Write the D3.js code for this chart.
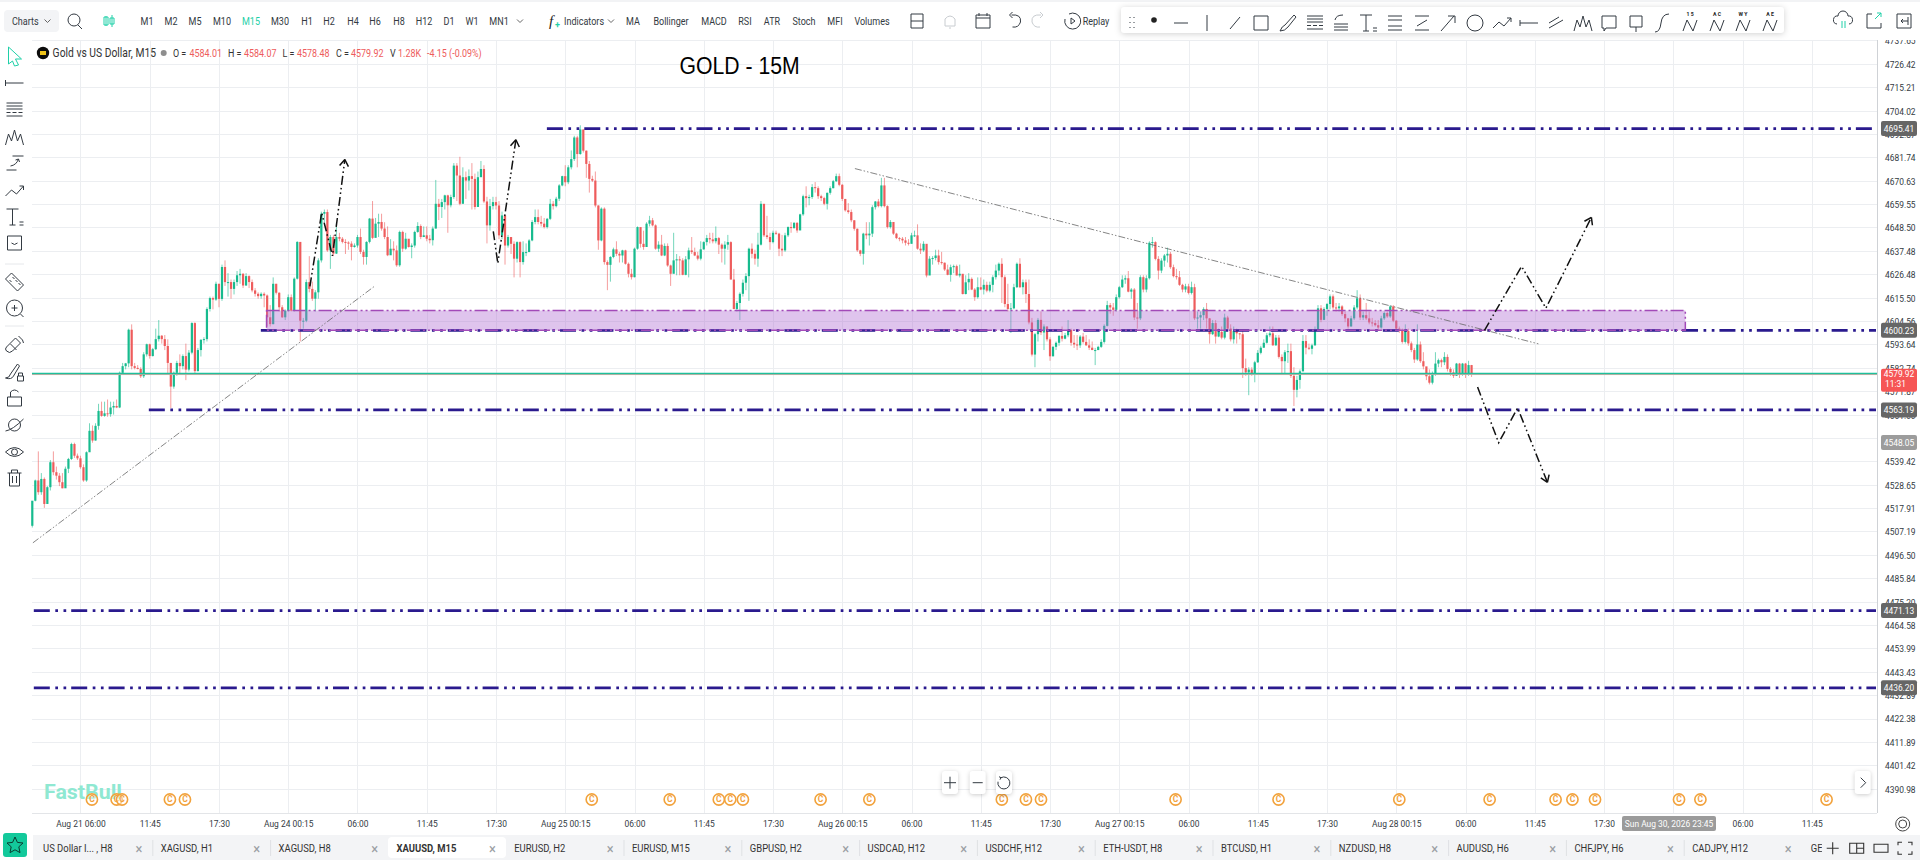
<!DOCTYPE html>
<html>
<head>
<meta charset="utf-8">
<title>GOLD - 15M</title>
<script src="https://cdn.jsdelivr.net/npm/d3@7"></script>
<style>
  html, body { margin: 0; padding: 0; background: #fff; overflow: hidden; }
  svg { display: block; }
</style>
</head>
<body>
<div id="chart"></div>
<script>
// candles, one entry per 15 minute bar. each bar opens about where the last one closed
const firstOpen = 4509.8;
const closes = [
  4521.3,4530.6,4525.2,4531.3,4519.8,4527.5,4539,4534.4,4532.8,4529.8,
  4527,4536,4540.5,4547.4,4542,4540.8,4536.7,4530.6,4543.6,4553.5,
  4549,4555.8,4562.7,4560.4,4561.6,4561.2,4564.3,4565,4564.3,4580.4,
  4583.5,4584.8,4600.5,4583.5,4582.7,4582.2,4578.8,4589,4593.7,4588.2,
  4591.4,4596.1,4597.7,4596.1,4592.9,4585,4574,4580.4,4585,4583.5,
  4588.2,4581.9,4589.8,4603.6,4581.2,4591,4595.8,4596.1,4610.2,4615.3,
  4614.6,4622,4614.9,4629.9,4622.8,4622.8,4619.6,4622.8,4626,4626.7,
  4621.2,4625.6,4622.8,4618.9,4617.3,4616.2,4617.3,4616.5,4606.3,4603.1,
  4622,4617.8,4611,4606.3,4609.4,4615.7,4609.4,4624.4,4641.7,4604.7,
  4604.7,4622.8,4619.6,4615,4618,4633,4655,4655.8,4637.7,4644,
  4636.2,4644,4643.2,4641.7,4641.4,4640.9,4639.3,4640,4644,4637,
  4634.6,4641.7,4652.7,4643.6,4650.3,4651.1,4648,4644,4635.4,4638.5,
  4637.7,4630.7,4646.4,4638.5,4643.2,4639.3,4640,4646.4,4649.2,4644,
  4644.8,4643.2,4642.5,4648,4659.7,4658.2,4660.5,4663.7,4659,4662.9,
  4677.8,4673.1,4659.7,4672.3,4670.7,4672.8,4671.5,4658.2,4672.3,4676.2,
  4660.8,4649.5,4658.6,4660.5,4658.9,4644.8,4654.2,4640,4644,4640.8,
  4633.8,4641.6,4632.2,4636.9,4636.9,4642.4,4651.1,4653.4,4651.1,4650.3,
  4648.7,4652.6,4659.7,4658.6,4662.1,4668.4,4672.8,4669.9,4677,4680.9,
  4691.2,4683.3,4695,4684.9,4678.6,4671.5,4670.7,4658.9,4642.4,4657.4,
  4632.2,4630.9,4634.6,4638.2,4636.1,4635.3,4637.7,4631.4,4626.7,4625.1,
  4638.5,4648.7,4640.8,4639.3,4650.3,4651.9,4649.5,4638.5,4640.4,4635.3,
  4639.8,4630.6,4626.7,4633,4633.5,4633,4626.2,4633.5,4637.7,4636.9,
  4635.3,4633.8,4638.2,4641.6,4643.5,4642.9,4642,4643.5,4640.4,4638.5,
  4640.4,4641.6,4624,4610.2,4613,4617.3,4622.5,4625.6,4638.5,4636.1,
  4633.8,4640.4,4659.7,4644.8,4644,4641.6,4646,4645.6,4638.5,4637.7,
  4644.8,4648.7,4648.2,4650.7,4647.1,4654.7,4663.3,4662.4,4662.9,4667.6,
  4667.1,4663.3,4662.4,4659.7,4664.9,4667.1,4670.4,4672.8,4668.7,4662,
  4656.6,4655.8,4651.9,4647.9,4637.7,4636.1,4645.6,4644.8,4645.6,4658.1,
  4660.8,4658.6,4668.4,4658.6,4648.7,4651.1,4645.6,4643.5,4643.2,4642.4,
  4641.3,4640.8,4644.8,4644.8,4638.5,4637.7,4640.8,4625.9,4633.8,4634.1,
  4635.3,4632.2,4631.9,4628.7,4626.2,4629.8,4630.3,4625.9,4626.7,4617.2,
  4622.7,4624.3,4619.3,4615.7,4620.4,4619.3,4621.5,4618.8,4621.5,4625.1,
  4628.2,4631.4,4625.1,4612.5,4610.2,4610.5,4620.4,4631.4,4620.4,4622.7,
  4617.2,4603.9,4588.9,4598.4,4605.1,4599.2,4602,4596,4588.1,4592.5,
  4594.4,4597.6,4596.3,4597.9,4600.4,4594.4,4593.6,4593.2,4597.3,4594.8,
  4593.2,4592.1,4591,4591,4592.5,4594.8,4602.3,4612,4610.9,4609.8,
  4615.7,4620.4,4624,4624.6,4618.3,4619.3,4606.2,4605.8,4625.1,4619.3,
  4624.6,4641.3,4641.6,4633.7,4628.2,4632.9,4635.3,4636.1,4629.8,4625.6,
  4625.1,4621.5,4619.3,4620.8,4617.7,4620.4,4605.8,4606.2,4607.3,4610.2,
  4605.8,4598.4,4603.6,4597.3,4599.5,4596.8,4606.2,4601,4596,4599.9,
  4598.8,4598.4,4582.6,4580.6,4581.9,4580,4585.3,4589.7,4592.1,4594.4,
  4597.9,4598.8,4593.2,4596.8,4587.8,4585.8,4590,4590.5,4579,4572.5,
  4577.1,4581.1,4595.2,4592.1,4591.6,4593.2,4600.4,4610.5,4605.1,4610.2,
  4612.5,4616.1,4610.9,4610.5,4611.4,4607.8,4605.8,4602,4605.8,4610.9,
  4615.2,4606.2,4607.3,4605.8,4603.9,4603.6,4602.6,4601.5,4605.8,4608.3,
  4606.7,4611.4,4604.7,4601,4600.4,4594.8,4599.9,4594.1,4591,4586.6,
  4593.6,4585.8,4583.4,4578.8,4575.8,4580,4584.7,4586.3,4585.3,4587.8,
  4582.2,4580.6,4579,4584.7,4579.5,4584.7,4579.5,4584.01,4579.92
];
const highs = [
  4521,4531,4544,4534,4532,4528,4540,4544,4537,4534,
  4534,4537,4541,4548,4548,4543,4542,4538,4544,4557,
  4556,4557,4566,4567,4567,4568,4567,4567,4568,4581,
  4585,4585,4601,4603,4585,4584,4583,4590,4594,4594,
  4592,4601,4605,4598,4598,4596,4585,4581,4586,4589,
  4589,4594,4591,4604,4604,4592,4596,4597,4611,4616,
  4616,4623,4622,4631,4633,4627,4624,4624,4628,4629,
  4627,4627,4626,4624,4620,4618,4618,4618,4617,4612,
  4625,4622,4618,4612,4610,4617,4617,4625,4642,4641,
  4606,4624,4635,4623,4619,4634,4656,4657,4657,4645,
  4645,4651,4646,4644,4643,4642,4642,4641,4645,4648,
  4638,4642,4653,4661,4653,4655,4655,4651,4649,4643,
  4642,4640,4647,4647,4646,4643,4641,4647,4651,4650,
  4649,4649,4645,4649,4671,4662,4662,4664,4664,4664,
  4679,4679,4682,4677,4675,4676,4679,4674,4675,4680,
  4678,4663,4662,4663,4663,4661,4656,4653,4645,4642,
  4642,4642,4642,4642,4641,4643,4652,4657,4657,4654,
  4653,4653,4662,4661,4663,4669,4673,4678,4678,4685,
  4692,4692,4697,4695,4685,4680,4673,4675,4659,4658,
  4658,4633,4635,4639,4642,4637,4638,4638,4632,4629,
  4639,4649,4648,4647,4651,4654,4653,4650,4642,4645,
  4641,4641,4631,4646,4636,4635,4634,4635,4639,4644,
  4639,4637,4642,4642,4645,4646,4646,4649,4644,4641,
  4642,4645,4642,4629,4614,4618,4624,4627,4639,4641,
  4638,4646,4661,4658,4654,4646,4647,4647,4646,4645,
  4646,4649,4651,4651,4651,4655,4664,4668,4664,4669,
  4670,4668,4664,4663,4665,4668,4671,4674,4674,4669,
  4662,4660,4657,4652,4648,4638,4646,4651,4651,4659,
  4661,4662,4672,4672,4659,4652,4651,4646,4644,4644,
  4644,4643,4646,4647,4650,4641,4642,4638,4635,4635,
  4638,4638,4637,4632,4631,4631,4631,4631,4631,4626,
  4626,4627,4625,4620,4625,4625,4624,4623,4623,4626,
  4631,4632,4634,4626,4622,4613,4622,4632,4634,4624,
  4624,4624,4606,4599,4606,4609,4603,4602,4597,4593,
  4595,4598,4602,4599,4605,4601,4598,4598,4598,4599,
  4598,4596,4595,4592,4593,4596,4603,4614,4613,4613,
  4617,4621,4626,4626,4628,4620,4620,4613,4626,4626,
  4626,4642,4644,4642,4635,4634,4636,4639,4637,4631,
  4629,4628,4622,4622,4622,4623,4622,4609,4609,4611,
  4613,4606,4605,4605,4601,4602,4608,4607,4603,4602,
  4601,4599,4600,4587,4583,4583,4586,4591,4593,4596,
  4599,4602,4602,4598,4598,4589,4591,4594,4594,4583,
  4579,4582,4598,4598,4594,4594,4602,4612,4612,4611,
  4613,4617,4617,4613,4613,4612,4609,4606,4607,4612,
  4619,4617,4609,4613,4609,4606,4605,4605,4607,4609,
  4609,4612,4612,4605,4602,4601,4603,4601,4595,4592,
  4603,4595,4590,4583,4582,4581,4590,4587,4587,4590,
  4589,4583,4582,4585,4585,4585,4585,4586,4584.07
];
const lows = [
  4509,4521,4524,4524,4518,4521,4526,4533,4531,4528,
  4527,4529,4534,4540,4541,4540,4536,4530,4530,4549,
  4548,4549,4554,4560,4560,4560,4560,4561,4564,4564,
  4580,4582,4583,4582,4582,4582,4578,4578,4588,4587,
  4588,4591,4595,4594,4591,4580,4564,4573,4579,4580,
  4582,4577,4581,4589,4580,4581,4588,4594,4595,4609,
  4610,4614,4611,4614,4621,4616,4615,4617,4621,4622,
  4620,4621,4620,4618,4616,4615,4615,4611,4602,4602,
  4603,4617,4609,4606,4605,4609,4609,4609,4624,4595,
  4601,4604,4618,4614,4609,4615,4632,4651,4637,4629,
  4635,4636,4642,4641,4636,4638,4633,4639,4639,4636,
  4631,4631,4641,4643,4644,4644,4647,4643,4635,4636,
  4633,4630,4630,4637,4638,4639,4634,4639,4646,4643,
  4644,4642,4641,4640,4648,4652,4653,4657,4646,4658,
  4662,4661,4659,4660,4662,4666,4657,4657,4666,4673,
  4660,4641,4647,4657,4657,4643,4643,4631,4639,4636,
  4625,4632,4625,4631,4635,4637,4642,4650,4650,4649,
  4648,4648,4652,4657,4658,4661,4668,4668,4669,4676,
  4680,4677,4683,4684,4672,4665,4670,4658,4638,4642,
  4631,4619,4623,4634,4635,4632,4632,4631,4625,4624,
  4625,4638,4639,4638,4646,4649,4649,4638,4637,4635,
  4635,4630,4621,4627,4626,4626,4626,4626,4625,4636,
  4635,4633,4633,4638,4640,4641,4641,4641,4636,4632,
  4631,4638,4624,4610,4609,4605,4616,4619,4614,4634,
  4631,4630,4640,4644,4643,4638,4641,4645,4635,4635,
  4637,4644,4646,4648,4646,4650,4654,4658,4659,4662,
  4665,4662,4661,4659,4657,4664,4667,4670,4668,4661,
  4656,4655,4651,4647,4637,4635,4631,4643,4640,4644,
  4657,4658,4658,4658,4648,4648,4645,4643,4642,4641,
  4640,4640,4641,4644,4638,4636,4637,4625,4627,4631,
  4633,4631,4631,4628,4626,4623,4627,4626,4625,4617,
  4617,4619,4619,4614,4615,4619,4617,4618,4618,4618,
  4624,4626,4613,4611,4609,4599,4610,4620,4620,4617,
  4613,4603,4588,4583,4595,4598,4591,4595,4586,4588,
  4591,4593,4595,4596,4597,4593,4592,4591,4592,4594,
  4593,4591,4591,4584,4591,4592,4594,4602,4608,4607,
  4609,4615,4620,4622,4618,4615,4605,4601,4605,4618,
  4618,4624,4639,4633,4624,4627,4630,4632,4629,4625,
  4624,4621,4618,4618,4617,4617,4605,4601,4601,4605,
  4601,4594,4598,4594,4597,4596,4596,4600,4595,4594,
  4594,4596,4578,4579,4570,4579,4576,4585,4589,4592,
  4594,4597,4593,4593,4587,4580,4580,4585,4578,4565,
  4569,4573,4581,4589,4591,4589,4593,4600,4604,4605,
  4607,4610,4610,4609,4609,4607,4604,4601,4602,4605,
  4610,4605,4605,4605,4603,4602,4602,4600,4601,4605,
  4606,4606,4604,4600,4599,4594,4594,4593,4590,4585,
  4586,4585,4582,4577,4575,4575,4579,4583,4583,4584,
  4581,4579,4578,4579,4578,4579,4578,4579,4578.48
];

// price axis
const priceTicks = [4737.65,4726.42,4715.21,4704.02,4692.87,4681.74,4670.63,4659.55,4648.50,4637.48,4626.48,4615.50,4604.56,4593.64,4582.74,4571.87,4561.00,4550.18,4539.42,4528.65,4517.91,4507.19,4496.50,4485.84,4475.20,4464.58,4453.99,4443.43,4432.89,4422.38,4411.89,4401.42,4390.98];
// time axis, a label every 23 bars from bar 16
const timeLabels = ["Aug 21 06:00","11:45","17:30","Aug 24 00:15","06:00","11:45","17:30","Aug 25 00:15","06:00","11:45","17:30","Aug 26 00:15","06:00","11:45","17:30","Aug 27 00:15","06:00","11:45","17:30","Aug 28 00:15","06:00","11:45","17:30","","06:00","11:45"];
const tickBars = timeLabels.map((_, i) => 16 + 23 * i);

// drawings on the chart: levels with the bar they start from
const levelPrices = [4695.41, 4600.23, 4563.19, 4471.13, 4436.20];
const levelStarts = [170.9, 75.9, 38.7, 0.5, 0.5];
const zoneBars = [77.8, 549];
const zonePrices = [4609.5, 4600.23];
const trendUp = [[0.2, 4502], [113.7, 4620.9]];
const trendDown = [[273.2, 4676.4], [500.2, 4593.9]];
const arrowPaths = [
  [[92.2, 4620.8], [96.1, 4655.5], [99.7, 4635.1], [103.8, 4680.7]],
  [[153.1, 4646.7], [154.6, 4631.6], [160.6, 4690.1]],
  [[482.3, 4600.2], [494.6, 4630.2], [502.7, 4610.6], [517.8, 4653.3]],
  [[480, 4573.8], [487, 4548], [493.3, 4564.1], [503.2, 4529.7]],
];
const eventBars = [19.8, 28, 29.8, 45.7, 50.7, 185.8, 211.7, 228, 231.8, 236, 261.8, 278, 322, 330, 335, 379.7, 413.9, 454, 484, 505.9, 511.5, 519, 546.9, 554, 595.9];

const lastPrice = 4579.92;
const alertPrice = 4548.05;

// toolbar and tab texts
const timeframes = ["M1","M2","M5","M10","M15","M30","H1","H2","H4","H6","H8","H12","D1","W1","MN1"];
const timeframeX = [147,171,195,222,251,280,307,329,353,375,399,424,449,472,499];
const studies = ["MA","Bollinger","MACD","RSI","ATR","Stoch","MFI","Volumes"];
const studyX = [633,671,714,745,772,804,835,872];
const tabs = ["US Dollar I... , H8","XAGUSD, H1","XAGUSD, H8","XAUUSD, M15","EURUSD, H2","EURUSD, M15","GBPUSD, H2","USDCAD, H12","USDCHF, H12","ETH-USDT, H8","BTCUSD, H1","NZDUSD, H8","AUDUSD, H6","CHFJPY, H6","CADJPY, H12"];

const width = 1920;
const height = 860;
const chartLeft = 32;
const chartRight = 1877;
const chartTop = 40;
const chartBottom = 813;
const squeeze = 0.86; // the screenshot is narrower than it is tall, texts too

const UP = "#17bb8e";
const DOWN = "#ee5c5c";
const NAVY = "#2a1a8e";
const INK = "#333a42";
const TEAL = "#1fd0a8";

const x = d3.scaleLinear().domain([0, 1]).range([32.3, 35.311]);
const y = d3.scaleLog().domain([4726.42, 4390.98]).range([63.8, 788.7]);

const svg = d3.select("#chart").append("svg").attr("width", width).attr("height", height).style("font-family", "Roboto, sans-serif");

// text squeezed in x, anchored at (px, py) on its vertical middle
function label(parent, str, px, py, size, fill, anchor, weight) {
  return parent
    .append("text")
    .attr("transform", `translate(${px},${py}) scale(${squeeze},1)`)
    .attr("dy", "0.35em")
    .attr("font-size", size)
    .attr("fill", fill || INK)
    .attr("text-anchor", anchor || "start")
    .attr("font-weight", weight || 400)
    .text(str);
}

// grid
const grid = svg.append("g").attr("stroke", "#eceef1").attr("stroke-width", 1);
grid
  .selectAll("line.h")
  .data(priceTicks)
  .join("line")
  .attr("x1", chartLeft)
  .attr("x2", chartRight)
  .attr("y1", (d) => Math.round(y(d)) + 0.5)
  .attr("y2", (d) => Math.round(y(d)) + 0.5);
grid
  .selectAll("line.v")
  .data(tickBars)
  .join("line")
  .attr("x1", (d) => Math.round(x(d)) + 0.5)
  .attr("x2", (d) => Math.round(x(d)) + 0.5)
  .attr("y1", chartTop)
  .attr("y2", chartBottom);

// candles
const candles = closes.map((c, i) => ({ i, o: i ? closes[i - 1] : firstOpen, c, h: highs[i], l: lows[i] }));
const candleG = svg.append("g");
candleG
  .selectAll("line")
  .data(candles)
  .join("line")
  .attr("x1", (d) => x(d.i))
  .attr("x2", (d) => x(d.i))
  .attr("y1", (d) => y(d.h))
  .attr("y2", (d) => y(d.l))
  .attr("stroke", (d) => (d.c >= d.o ? UP : DOWN))
  .attr("stroke-opacity", 0.6)
  .attr("stroke-width", 1);
candleG
  .selectAll("rect")
  .data(candles)
  .join("rect")
  .attr("x", (d) => x(d.i) - 1.1)
  .attr("width", 2.2)
  .attr("y", (d) => y(Math.max(d.o, d.c)))
  .attr("height", (d) => Math.max(1, Math.abs(y(d.o) - y(d.c))))
  .attr("fill", (d) => (d.c >= d.o ? UP : DOWN));

// last price line
svg.append("line").attr("x1", chartLeft).attr("x2", chartRight).attr("y1", y(lastPrice) + 0.7).attr("y2", y(lastPrice) + 0.7).attr("stroke", "#e0a8a0").attr("stroke-width", 1);
svg.append("line").attr("x1", chartLeft).attr("x2", chartRight).attr("y1", y(lastPrice) - 0.4).attr("y2", y(lastPrice) - 0.4).attr("stroke", "#1fc09c").attr("stroke-width", 1.4);

// level lines
svg
  .append("g")
  .selectAll("line")
  .data(levelPrices)
  .join("line")
  .attr("x1", (d, i) => x(levelStarts[i]))
  .attr("x2", chartRight - 1)
  .attr("y1", (d) => y(d))
  .attr("y2", (d) => y(d))
  .attr("stroke", NAVY)
  .attr("stroke-width", 2.8)
  .attr("stroke-dasharray", "16,5.5,2.7,5.5,2.7,5");

// purple zone
svg
  .append("rect")
  .attr("x", x(zoneBars[0]))
  .attr("width", x(zoneBars[1]) - x(zoneBars[0]))
  .attr("y", y(zonePrices[0]))
  .attr("height", y(zonePrices[1]) - y(zonePrices[0]))
  .attr("fill", "#b06cd2")
  .attr("fill-opacity", 0.4)
  .attr("stroke", "#a24ab8")
  .attr("stroke-width", 1.5)
  .attr("stroke-dasharray", "13,3,2,3,2,3");

// thin trend lines
const pathLine = d3.line().x((d) => x(d[0])).y((d) => y(d[1]));
svg
  .append("g")
  .selectAll("path")
  .data([trendUp, trendDown])
  .join("path")
  .attr("d", pathLine)
  .attr("fill", "none")
  .attr("stroke", "#666")
  .attr("stroke-width", 0.8)
  .attr("stroke-dasharray", "7,2,1.5,2,1.5,2");

// the hand drawn arrows
arrowPaths.forEach((pts) => {
  svg.append("path").attr("d", pathLine(pts)).attr("fill", "none").attr("stroke", "#111").attr("stroke-width", 1.5).attr("stroke-dasharray", "9,3,1.6,3,1.6,3");
  const a = pts[pts.length - 2];
  const b = pts[pts.length - 1];
  const angle = Math.atan2(y(b[1]) - y(a[1]), x(b[0]) - x(a[0]));
  const head = [angle + 2.55, angle - 2.55].map((t) => `M${x(b[0]) + 8 * Math.cos(t)},${y(b[1]) + 8 * Math.sin(t)}L${x(b[0])},${y(b[1])}`);
  svg.append("path").attr("d", head.join("")).attr("fill", "none").attr("stroke", "#111").attr("stroke-width", 1.5);
});

// watermark
svg.append("text").attr("x", 44).attr("y", 799).attr("font-size", 19.5).attr("font-weight", 700).attr("fill", "#8fe8d2").attr("textLength", 78).attr("lengthAdjust", "spacingAndGlyphs").text("FastBull");

// event markers
const eventG = svg.append("g").selectAll("g").data(eventBars).join("g").attr("transform", (d) => `translate(${x(d)},799.5)`);
eventG.append("circle").attr("r", 5.6).attr("fill", "#fff").attr("fill-opacity", 0.4).attr("stroke", "#f2a23c").attr("stroke-width", 1.6);
eventG.append("text").attr("text-anchor", "middle").attr("dy", "0.35em").attr("font-size", 8.5).attr("font-weight", 700).attr("fill", "#f2a23c").text("C");

// axes frame
svg.append("line").attr("x1", chartRight + 0.5).attr("x2", chartRight + 0.5).attr("y1", chartTop).attr("y2", chartBottom).attr("stroke", "#cfd2d6");
svg.append("line").attr("x1", chartLeft).attr("x2", chartRight).attr("y1", chartBottom + 0.5).attr("y2", chartBottom + 0.5).attr("stroke", "#e3e5e8");

// price axis
const yAxis = svg
  .append("g")
  .attr("transform", `translate(${chartRight},0)`)
  .call(d3.axisRight(y).tickValues(priceTicks).tickFormat(d3.format(".2f")).tickSize(0).tickPadding(0));
yAxis.select(".domain").remove();
yAxis
  .selectAll("text")
  .attr("x", null)
  .attr("dy", "0.35em")
  .attr("transform", `translate(8,0) scale(${squeeze},1)`)
  .attr("font-family", "Roboto, sans-serif")
  .attr("font-size", 9.8)
  .attr("fill", INK);

// time axis
const xAxis = svg
  .append("g")
  .attr("transform", `translate(0,${chartBottom})`)
  .call(d3.axisBottom(x).tickValues(tickBars).tickFormat((d, i) => timeLabels[i]).tickSize(0).tickPadding(0));
xAxis.select(".domain").remove();
xAxis
  .selectAll("text")
  .attr("y", null)
  .attr("dy", "0.35em")
  .attr("transform", `translate(0,10.5) scale(${squeeze},1)`)
  .attr("font-family", "Roboto, sans-serif")
  .attr("font-size", 9.8)
  .attr("fill", INK);

// crosshair date box
svg.append("rect").attr("x", 1622).attr("y", 816).attr("width", 94).attr("height", 15).attr("rx", 2).attr("fill", "#9b9b9b");
label(svg, "Sun Aug 30, 2026 23:45", 1669, 823.5, 9.8, "#fff", "middle");

// price tags
function priceTag(price, fill) {
  svg.append("rect").attr("x", 1881).attr("y", y(price) - 7.5).attr("width", 36).attr("height", 15).attr("rx", 2).attr("fill", fill);
  label(svg, d3.format(".2f")(price), 1899, y(price), 9.8, "#fff", "middle");
}
levelPrices.forEach((p) => priceTag(p, "#666666"));
priceTag(alertPrice, "#9c9c9c");
svg.append("rect").attr("x", 1881).attr("y", y(lastPrice) - 5).attr("width", 36).attr("height", 23).attr("rx", 2).attr("fill", "#f65555");
label(svg, d3.format(".2f")(lastPrice), 1899, y(lastPrice), 9.8, "#fff", "middle");
label(svg, "11:31", 1885, y(lastPrice) + 9.5, 9.8, "#fff");

// icons, drawn around (0,0)
const glyphs = {
  cursor: "M-6,-9L7,3L1,3L4,9L0,10L-2,5L-6,8Z",
  hline: "M-9,0H9M-9,-3V3",
  fib: "M-8,-7H8M-8,-4H8M-8,-1H8M-8,2.5H-4M-2,2.5H2M4,2.5H8M-8,6H8",
  waves: "M-9,8L-6,-3L-3,4L0,-7L3,4L6,-3L9,8",
  ray: "M-8,7H2M-2,-7H9M-4,3Q2,2 4,-4M1,-3L4,-4L5,-1",
  trend: "M-9,5L-3,-1L2,3L9,-5M5,-5H9V-1",
  text: "M-8,-8H4M-2,-8V8M-5,8H1M5,5H9M5,8H9",
  smile: "M-7,-7H7V7H-7ZM-3,0Q0,3 3,0",
  ruler: "M-9,-3L-3,-9L9,3L3,9ZM-5,-2L-3,0M-2,-5L0,-3M1,-2L3,0M4,1L6,3",
  zoom: "M-8,0a8,8 0 1,0 16,0a8,8 0 1,0 -16,0M6,6L9,9M-3,0H3M0,-3V3",
  magnet: "M-8,2L1,-7L6,-2L-2,6Q-5,9 -8,6Q-10,4 -8,2ZM-4,-1L2,5M4,-9L8,-5L9,-2",
  brushLock: "M-9,6Q-5,6 -4,2L3,-8L5,-6L-1,4Q-3,8 -9,6ZM3,4H9V9H3ZM4,4V1H8V4",
  lock: "M-7,-1H7V8H-7ZM-4,-1V-6Q0,-10 4,-6",
  planet: "M-6,0a6,6 0 1,0 12,0a6,6 0 1,0 -12,0M-9,6Q-2,5 9,-6",
  eye: "M-9,0Q0,-9 9,0Q0,9 -9,0ZM-3,0a3,3 0 1,0 6,0a3,3 0 1,0 -6,0",
  trash: "M-7,-5H7M-5,-5V8H5V-5M-3,-5V-8H3V-5M-2,-2V5M2,-2V5",
  search: "M-7,-1a6,6 0 1,0 12,0a6,6 0 1,0 -12,0M3,4L7,8",
  bars: "M-3,-5V5M-5,-4H-1V4H-5ZM3,-6V6M1,-3H5V3H1Z",
  bell: "M-5,5V-2Q0,-8 5,-2V5ZM-1,7H1",
  calendar: "M-7,-6H7V7H-7ZM-7,-3H7M-4,-8V-5M4,-8V-5",
  panels: "M-6,-7H6V7H-6ZM-6,0H6",
  undo: "M-4,-6Q6,-7 5,1Q3,7 -3,6M-6,-6L-3,-9M-6,-6L-3,-3",
  redo: "M4,-6Q-6,-7 -5,1Q-3,7 3,6M6,-6L3,-9M6,-6L3,-3",
  replay: "M-3,-7a8,8 0 1,1 -4,5M-1,-3L3,0L-1,3Z",
  grip: "M-2,-6V-5M2,-6V-5M-2,-1V0M2,-1V0M-2,4V5M2,4V5",
  dash: "M-7,0H7",
  vline: "M0,-8V8",
  slash: "M-5,6L5,-6",
  square: "M-7,-7H7V7H-7Z",
  brush: "M-8,8Q-6,3 -3,2L6,-8L8,-6L0,4Q-3,8 -8,8Z",
  fan: "M-7,-7H7M-7,-3H7M-7,7H7M-7,3H7",
  arc: "M-7,7H7M-7,4H7M-7,1H7M-6,-3Q-5,-8 2,-8",
  channel: "M-7,-7H7M-7,7H7M-5,3L5,-3",
  arrow: "M-7,8L6,-7M0,-7H7V0",
  circle: "M-8,0a8,8 0 1,0 16,0a8,8 0 1,0 -16,0",
  pair: "M-7,5L7,-3M-7,0L3,-6",
  callout: "M-7,-7H7V5H-3L-5,8V5H-7Z",
  sign: "M-6,-7H6V4H-6ZM0,4V9",
  curve: "M-7,9Q-2,9 -1,0Q0,-9 7,-9",
  wave: "M-7,8L-3,-3L3,8L7,-3",
  cloud: "M-6,3a4,4 0 0,1 1,-8a5,5 0 0,1 10,0a4,4 0 0,1 1,8",
  cloudMark: "M-1,0V7M2,0V7",
  share: "M-2,-7H-7V7H7V2",
  shareMark: "M1,-2L7,-8M3,-8H7V-4",
  fold: "M-7,-7H7V7H-7ZM-3,0H4M-3,0L-1,-2M-3,0L-1,2M4,-4V4",
  plus: "M-6,0H6M0,-6V6",
  minus: "M-5,0H5",
  reset: "M-3,-5a6,6 0 1,1 -3,4M-5,-6L-3,-5L-4,-3",
  chevR: "M-2,-5L3,0L-2,5",
  chev: "M-3,-1.5L0,1.5L3,-1.5",
  star: "M0,-8L2.4,-2.6L8,-2L3.8,1.8L5,7.6L0,4.8L-5,7.6L-3.8,1.8L-8,-2L-2.4,-2.6Z",
  gear: "M-4,0a4,4 0 1,0 8,0a4,4 0 1,0 -8,0M-7,0a7,7 0 1,0 14,0a7,7 0 1,0 -14,0",
  layout: "M-7,-5H7V5H-7ZM0,-5V5M0,0H7",
  frame: "M-7,-4H7V4H-7Z",
  full: "M-7,-3V-6H-3M3,-6H7V-3M7,3V6H3M-3,6H-7V3",
};
function icon(name, px, py, color, sw) {
  svg
    .append("path")
    .attr("d", glyphs[name])
    .attr("transform", `translate(${px},${py})`)
    .attr("fill", "none")
    .attr("stroke", color || INK)
    .attr("stroke-width", sw || 1);
}

// top bar
svg.insert("rect", ":first-child").attr("width", width).attr("height", height).attr("fill", "#fff");
svg.append("rect").attr("width", width).attr("height", 40).attr("fill", "#fff");
svg.append("rect").attr("width", width).attr("height", 2).attr("fill", "#f2f3f5");
svg.append("rect").attr("x", 4).attr("y", 10).attr("width", 55).attr("height", 22).attr("rx", 4).attr("fill", "#f3f4f6");
label(svg, "Charts", 12, 21, 10.5);
icon("chev", 47.5, 21, "#666");
icon("search", 75, 21);
icon("bars", 109, 21, TEAL);
svg.append("g").selectAll("text").data(timeframes).join("text")
  .attr("transform", (d, i) => `translate(${timeframeX[i]},21) scale(${squeeze},1)`)
  .attr("dy", "0.35em").attr("text-anchor", "middle").attr("font-size", 10.5)
  .attr("fill", (d) => (d === "M15" ? TEAL : INK)).text((d) => d);
icon("chev", 520, 21, "#666");
svg.append("text").attr("x", 549).attr("y", 26).attr("font-size", 15).attr("font-style", "italic").attr("font-family", "Liberation Serif").attr("fill", "#222").text("f");
svg.append("text").attr("x", 555).attr("y", 28).attr("font-size", 9).attr("font-weight", 700).attr("fill", TEAL).text("+");
label(svg, "Indicators", 584, 21, 10.5, INK, "middle");
icon("chev", 611, 21, "#666");
svg.append("g").selectAll("text").data(studies).join("text")
  .attr("transform", (d, i) => `translate(${studyX[i]},21) scale(${squeeze},1)`)
  .attr("dy", "0.35em").attr("text-anchor", "middle").attr("font-size", 10.5).attr("fill", INK).text((d) => d);
icon("panels", 917, 21);
icon("bell", 950, 21, "#c8ccd0");
icon("calendar", 983, 21);
icon("undo", 1015.5, 21);
icon("redo", 1037, 21, "#c8ccd0");
icon("replay", 1072, 21);
label(svg, "Replay", 1096, 21, 10.5, INK, "middle");
svg.append("rect").attr("x", 1121).attr("y", 7).attr("width", 663).attr("height", 26).attr("rx", 3).attr("fill", "#fff").style("filter", "drop-shadow(0 1px 3px rgba(0,0,0,.18))");
[["grip",1132],["dash",1181],["vline",1207],["slash",1235],["square",1261],["brush",1288],["fib",1315],["arc",1341],["text",1368],["fan",1395],["channel",1422],["arrow",1448],["circle",1475],["trend",1502],["hline",1529],["pair",1556],["waves",1583],["callout",1609],["sign",1636],["curve",1662],["wave",1690],["wave",1717],["wave",1743],["wave",1770]].forEach(([n, px]) => icon(n, px, 23));
svg.append("circle").attr("cx", 1154).attr("cy", 20).attr("r", 2.8).attr("fill", "#222");
[["1 5",1690],["A C",1717],["W Y",1743],["A E",1770]].forEach(([t, px]) => label(svg, t, px, 14, 6, "#222", "middle", 700));
icon("cloud", 1843, 21);
icon("cloudMark", 1843, 21, TEAL);
icon("share", 1874, 21);
icon("shareMark", 1874, 21, TEAL);
icon("fold", 1904, 21);

// legend row
svg.append("circle").attr("cx", 43).attr("cy", 53).attr("r", 6.2).attr("fill", "#0c0c0c");
svg.append("rect").attr("x", 40).attr("y", 51).attr("width", 6).attr("height", 4).attr("fill", "#f0c419");
label(svg, "Gold vs US Dollar, M15", 52.6, 53, 12, "#333");
svg.append("circle").attr("cx", 163.7).attr("cy", 53).attr("r", 3).attr("fill", "#8e8e8e");
[["O =", 173, "4584.01", 189.5], ["H =", 228, "4584.07", 244], ["L =", 282.4, "4578.48", 297], ["C =", 336, "4579.92", 351]].forEach(([a, ax, b, bx]) => {
  label(svg, a, ax, 53, 10.4, "#333");
  label(svg, b, bx, 53, 10.4, DOWN);
});
label(svg, "V", 390, 53, 10.4, "#333");
label(svg, "1.28K", 398, 53, 10.4, DOWN);
label(svg, "-4.15 (-0.09%)", 427, 53, 10.4, DOWN);

// chart title
svg.append("text").attr("x", 679.6).attr("y", 74).attr("font-family", "Liberation Sans").attr("font-size", 23.5).attr("fill", "#000").attr("textLength", 120).attr("lengthAdjust", "spacingAndGlyphs").text("GOLD - 15M");

// left tools
[["cursor",56,TEAL],["hline",83],["fib",110],["waves",137],["ray",163],["trend",191],["text",217],["smile",243],["ruler",282],["zoom",308],["magnet",345],["brushLock",372],["lock",398],["planet",425],["eye",452],["trash",478]].forEach(([n, py, c]) => icon(n, 14.5, py, c));
[264, 326].forEach((py) => svg.append("line").attr("x1", 5).attr("x2", 24).attr("y1", py).attr("y2", py).attr("stroke", "#e6e8eb"));

// zoom buttons
[["plus",950],["minus",977.7],["reset",1004],["chevR",1862.7]].forEach(([n, px]) => {
  svg.append("rect").attr("x", px - 8).attr("y", 771).attr("width", 16).attr("height", 23).attr("rx", 3).attr("fill", "#fff").style("filter", "drop-shadow(0 1px 2px rgba(0,0,0,.2))");
  icon(n, px, 782.7);
});

// bottom bar
icon("gear", 1902.7, 824, "#444");
svg.append("rect").attr("y", 835).attr("x", 33).attr("width", width - 33).attr("height", 25).attr("fill", "#f3f4f6");
svg.append("rect").attr("x", 3).attr("y", 833).attr("width", 24).attr("height", 24).attr("rx", 3).attr("fill", "#13c99b");
icon("star", 15, 845, "#0b3b30");
svg.append("rect").attr("x", 388).attr("y", 837).attr("width", 118).attr("height", 21).attr("rx", 4).attr("fill", "#fff");
tabs.forEach((t, i) => {
  const tx = 43 + 117.8 * i;
  label(svg, t, tx, 848.3, 11, "#333", "start", t === "XAUUSD, M15" ? 700 : 400);
  label(svg, "×", tx + 96, 848.3, 15, "#9a9ea3", "middle");
  if (i > 0 && i !== 3 && i !== 4) svg.append("line").attr("x1", tx - 8).attr("x2", tx - 8).attr("y1", 840).attr("y2", 856).attr("stroke", "#dfe1e4");
});
label(svg, "GE", 1810.7, 848.3, 11, "#333");
svg.append("rect").attr("x", 1822).attr("y", 836).attr("width", 98).attr("height", 24).attr("fill", "#f3f4f6");
[["plus",1832.7],["layout",1856.7],["frame",1881],["full",1905]].forEach(([n, px]) => icon(n, px, 848.3, "#333", 1.1));
</script>
</body>
</html>
